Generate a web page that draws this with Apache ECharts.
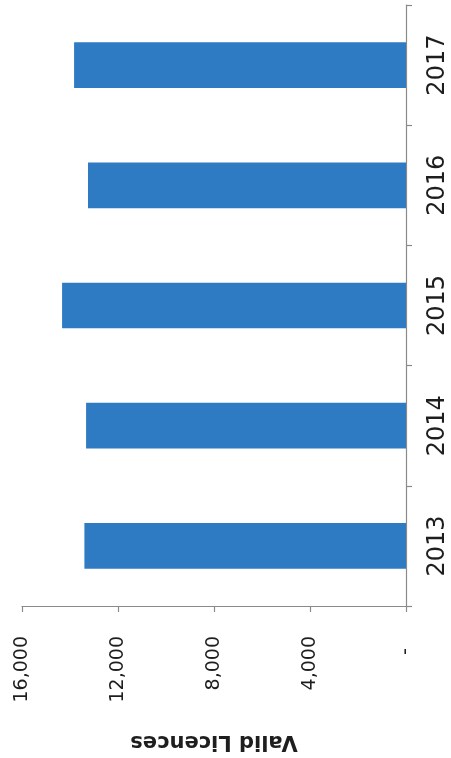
<!DOCTYPE html>
<html>
<head>
<meta charset="utf-8">
<script src="https://cdn.jsdelivr.net/npm/echarts@6/dist/echarts.min.js"></script>
<style>
html,body{margin:0;padding:0;background:#fff;}
#chart{width:451px;height:758px;}
</style>
</head>
<body>
<div id="chart"></div>
<script>
const years = ['2013', '2014', '2015', '2016', '2017'];
const validLicences = [13400, 13330, 14330, 13250, 13830];
const valueTicks = [0, 4000, 8000, 12000, 16000];
const axisTitle = 'Valid Licences';

const chart = echarts.init(document.getElementById('chart'));
const axisColor = '#8a8a8a';
const textColor = '#1e1e1e';
chart.setOption({
  animation: false,
  backgroundColor: '#ffffff',
  grid: { left: 22, right: 45, top: 5, bottom: 152, containLabel: false },
  xAxis: {
    type: 'value',
    inverse: true,
    min: valueTicks[0],
    max: valueTicks[valueTicks.length - 1],
    interval: valueTicks[1] - valueTicks[0],
    position: 'bottom',
    name: axisTitle,
    nameLocation: 'middle',
    nameRotate: 180,
    nameGap: 125,
    nameTextStyle: { fontFamily: 'DejaVu Sans', fontSize: 21, fontWeight: 'bold', color: textColor },
    axisLine: { show: true, lineStyle: { color: axisColor, width: 1.2 } },
    axisTick: { show: true, length: 6, lineStyle: { color: axisColor, width: 1.2 } },
    splitLine: { show: false },
    axisLabel: {
      rotate: 90,
      margin: 30,
      fontFamily: 'DejaVu Sans',
      fontSize: 19,
      color: textColor,
      formatter: function (v) {
        if (v === 0) return '-  ';
        return v.toLocaleString('en-US');
      }
    }
  },
  yAxis: {
    type: 'category',
    data: years,
    position: 'right',
    axisLine: { show: true, lineStyle: { color: axisColor, width: 1.2 } },
    axisTick: { show: true, length: 6, alignWithLabel: false, lineStyle: { color: axisColor, width: 1.2 } },
    splitLine: { show: false },
    axisLabel: {
      rotate: 90,
      margin: 20,
      fontFamily: 'DejaVu Sans',
      fontSize: 24,
      color: textColor
    }
  },
  series: [{
    type: 'bar',
    data: validLicences,
    barCategoryGap: '62%',
    itemStyle: { color: '#2E7BC4' }
  }]
});
</script>
</body>
</html>
